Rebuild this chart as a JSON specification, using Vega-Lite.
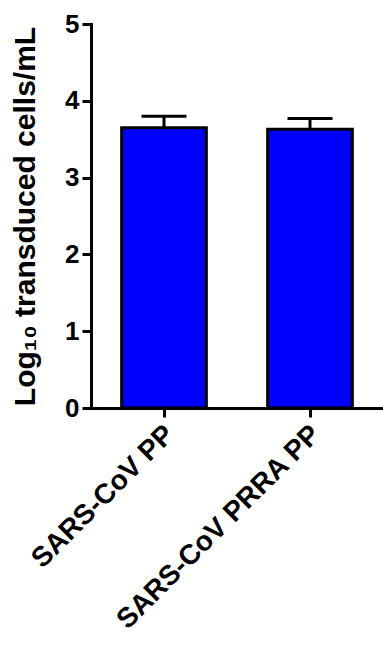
{
  "$schema": "https://vega.github.io/schema/vega-lite/v6.json",
  "autosize": "none",
  "width": 292,
  "height": 384,
  "padding": {"left": 91, "top": 24, "right": 0, "bottom": 247},
  "background": "white",
  "config": {
    "view": {"stroke": null},
    "font": "Liberation Sans",
    "axis": {
      "labelFont": "Liberation Sans",
      "titleFont": "Liberation Sans",
      "labelFontWeight": "bold",
      "titleFontWeight": "bold",
      "labelColor": "black",
      "titleColor": "black",
      "domainColor": "black",
      "tickColor": "black",
      "domainWidth": 3,
      "tickWidth": 3,
      "tickSize": 9,
      "grid": false,
      "domainCap": "square"
    }
  },
  "data": {
    "values": [
      {"group": "SARS-CoV PP", "value": 3.65, "upper": 3.80},
      {"group": "SARS-CoV PRRA PP", "value": 3.63, "upper": 3.77}
    ]
  },
  "encoding": {
    "x": {
      "field": "group",
      "type": "nominal",
      "sort": null,
      "scale": {"paddingInner": 0.42, "paddingOuter": 0.21},
      "axis": {
        "title": null,
        "labelAngle": -45,
        "labelAlign": "right",
        "labelBaseline": "middle",
        "labelFontSize": 28,
        "labelPadding": 13,
        "labelOffset": 6,
        "labelLimit": 500
      }
    }
  },
  "layer": [
    {
      "mark": {"type": "bar", "fill": "#0000FF", "stroke": "black", "strokeWidth": 3},
      "encoding": {
        "y": {
          "field": "value",
          "type": "quantitative",
          "scale": {"domain": [0, 5], "nice": false},
          "axis": {
            "title": "Log₁₀ transduced cells/mL",
            "titleFontSize": 30,
            "titlePadding": 24,
            "values": [0, 1, 2, 3, 4, 5],
            "labelFontSize": 26,
            "labelPadding": 3,
            "format": "d"
          }
        }
      }
    },
    {
      "mark": {"type": "rule", "stroke": "black", "strokeWidth": 3},
      "encoding": {
        "y": {"field": "value", "type": "quantitative"},
        "y2": {"field": "upper"}
      }
    },
    {
      "mark": {"type": "tick", "color": "black", "size": 45, "thickness": 3, "opacity": 1},
      "encoding": {
        "y": {"field": "upper", "type": "quantitative"}
      }
    }
  ]
}
